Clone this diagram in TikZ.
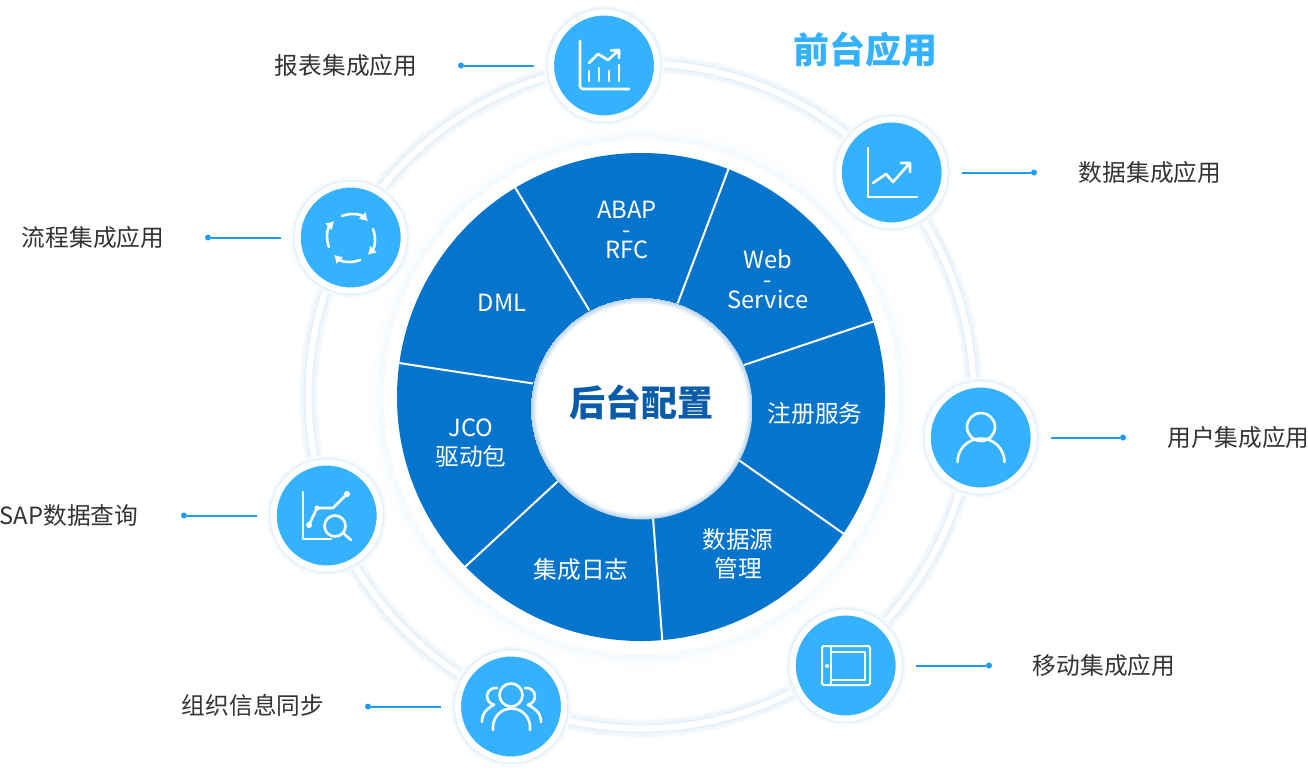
\documentclass[tikz,border=0pt]{standalone}
\usepackage{fontspec}
\setmainfont{Noto Sans CJK SC}
\usetikzlibrary{arrows.meta}
\definecolor{hubblue}{HTML}{35B2FF}
\definecolor{wheelblue}{HTML}{0574CD}
\definecolor{coreblue}{HTML}{0A5CA8}
\definecolor{leadblue}{HTML}{1E9BF5}
\definecolor{labelgray}{HTML}{333333}
\definecolor{glowa}{HTML}{F8FBFD}
\definecolor{glowb}{HTML}{F1F6FB}
\definecolor{glowc}{HTML}{E8F1F9}
\definecolor{halofar}{HTML}{FCFDFE}
\definecolor{halonear}{HTML}{F7FAFD}
\definecolor{coreedge}{HTML}{B4CFE8}
\pgfdeclareradialshading{coreglow}{\pgfpoint{0bp}{0bp}}{color(0bp)=(white); color(23.6bp)=(white); color(25bp)=(coreedge)}
\tikzset{
  hub/.style={circle,minimum size=106pt,inner sep=0pt,fill=hubblue,draw=white,line width=6pt,
    preaction={draw=glowa,line width=15pt},preaction={draw=glowc,line width=10pt}},
  tick/.style={circle,fill=leadblue,minimum size=6pt,inner sep=0pt},
  lead/.style={leadblue,line width=2pt,shorten >=14pt},
  item/.style={text=labelgray,font=\fontsize{23.7}{27}\selectfont},
  sector/.style={text=white,align=center,font=\fontsize{23.7}{29}\selectfont},
  spoke/.style={white,line width=2pt},
  icon/.style={white,line width=2.6pt,line cap=round,line join=round},
  flowarc/.style={icon,-{Latex[length=8pt,width=10pt]}}
}
\begin{document}
\begin{tikzpicture}[x=1pt,y=-1pt,>=Latex]
\useasboundingbox (0,0) rectangle (1308,772);
% outer ring
\draw[glowa,line width=19pt] (641,396) circle (332.5);
\draw[glowb,line width=15pt] (641,396) circle (332.5);
\draw[glowc,line width=10pt] (641,396) circle (332.5);
\draw[white,line width=6pt] (641,396) circle (332.5);
% wheel
\node[circle,minimum size=488pt,inner sep=0pt,fill=wheelblue,
  preaction={draw=halofar,line width=54pt},preaction={draw=halonear,line width=40pt},
  preaction={draw=white,line width=26pt}] (wheel) at (641,397) {};
\node[circle,minimum size=222pt,inner sep=0pt,shading=coreglow,text=coreblue,font=\fontsize{36}{40}\selectfont\bfseries] (core) at (641.5,408.5) {\raisebox{-8pt}[0pt][0pt]{后台配置}};
\draw[spoke] (wheel.69.7) -- (core.71.7);
\draw[spoke] (wheel.18) -- (core.23.8);
\draw[spoke] (wheel.-34.2) -- (core.-28);
\draw[spoke] (wheel.-85.3) -- (core.-84);
\draw[spoke] (wheel.224.4) -- (core.221);
\draw[spoke] (wheel.172.9) -- (core.167.6);
\draw[spoke] (wheel.121.5) -- (core.118.4);
\node[sector] (abap) at (627,230) {ABAP\\[-9pt]-\\[-9pt]RFC};
\node[sector] (web) at (768,279) {Web\\[-9pt]-\\[-9pt]Service};
\node[sector] (reg) at (815,414) {注册服务};
\node[sector] (src) at (738,553.5) {数据源\\管理};
\node[sector] (log) at (581,570) {集成日志};
\node[sector] (jco) at (471,443.5) {JCO\\驱动包};
\node[sector] (dml) at (502,302.5) {DML};
% hubs
\node[hub] (report) at (604,65.5) {};
\node[hub] (data) at (891.7,172.5) {};
\node[hub] (user) at (980.7,437.5) {};
\node[hub] (mobile) at (845.7,665.5) {};
\node[hub] (org) at (511,706.5) {};
\node[hub] (sap) at (326.7,515.5) {};
\node[hub] (flow) at (350.7,237.5) {};
% leaders
\node[tick] (treport) at (461,65.5) {};
\node[tick] (tdata) at (1034,172.5) {};
\node[tick] (tuser) at (1123,437.5) {};
\node[tick] (tmobile) at (989,665.5) {};
\node[tick] (torg) at (368,706.5) {};
\node[tick] (tsap) at (184,515.5) {};
\node[tick] (tflow) at (208,237.5) {};
\draw[lead] (treport) -- (report);
\draw[lead] (tdata) -- (data);
\draw[lead] (tuser) -- (user);
\draw[lead] (tmobile) -- (mobile);
\draw[lead] (torg) -- (org);
\draw[lead] (tsap) -- (sap);
\draw[lead] (tflow) -- (flow);
% labels
\node[item] (lreport) at (346,65) {报表集成应用};
\node[item] (ldata) at (1150,172) {数据集成应用};
\node[item] (luser) at (1238.5,437) {用户集成应用};
\node[item] (lmobile) at (1104,665) {移动集成应用};
\node[item] (lorg) at (253,705) {组织信息同步};
\node[item] (lsap) at (69,515.5) {SAP数据查询};
\node[item] (lflow) at (93,237) {流程集成应用};
\node[text=hubblue,font=\fontsize{36}{40}\selectfont\bfseries] (front) at (865,49.5) {前台应用};
% report icon
\draw[icon] (580,41) -- (580,86) arc[start angle=180,end angle=90,radius=3] -- (629,89);
\draw[icon] (589,71) -- (589,81) (599,68) -- (599,81) (609,71) -- (609,81) (619,65) -- (619,81);
\draw[icon] (589,63) -- (598,54) -- (608,60) -- (618,51) (611,50.5) -- (619,50) -- (619,58);
% data icon
\draw[icon] (868,148) -- (868,197) -- (917,197);
\draw[icon] (873,183) -- (886,174) -- (893,182) -- (909,164) (901,163) -- (910,163) -- (910,172);
% user icon
\draw[icon] (981,427) circle (14);
\draw[icon] (957.5,462) arc[start angle=180,end angle=360,radius=23.5];
% mobile icon
\draw[icon,line width=2pt,rounded corners=2pt] (822,646) rectangle (870,685);
\draw[icon,line width=2pt] (831,646) -- (831,685) (831,652) -- (865,652) -- (865,680) -- (831,680);
\fill[white] (827,666) circle (2);
% org icon
\draw[icon] (511,695) circle (11.5);
\draw[icon] (493,730) -- (493,727) arc[start angle=180,end angle=360,radius=18.5] -- (530,730);
\draw[icon] (497,688) arc[start angle=-80,end angle=-260,radius=8.5] .. controls (488,708) and (482,712) .. (482,722);
\draw[icon] (525,688) arc[start angle=-100,end angle=80,radius=8.5] .. controls (534,708) and (541,712) .. (541,722);
% sap icon
\draw[icon] (303,492) -- (303,539) -- (331,539);
\draw[icon] (309,525) -- (317,508) -- (333,508) -- (347,494);
\fill[white] (309,525) circle (3) (317,508) circle (2.5) (347,494) circle (3);
\draw[icon] (335,526) circle (10.5) (343,533) -- (351,540);
% flow icon
\draw[flowarc] (342,216) arc[start angle=-112,end angle=-45,radius=24];
\draw[flowarc] (373,229) arc[start angle=-22,end angle=45,radius=24];
\draw[flowarc] (360,260) arc[start angle=68,end angle=135,radius=24];
\draw[flowarc] (329,247) arc[start angle=158,end angle=225,radius=24];
\end{tikzpicture}
\end{document}
